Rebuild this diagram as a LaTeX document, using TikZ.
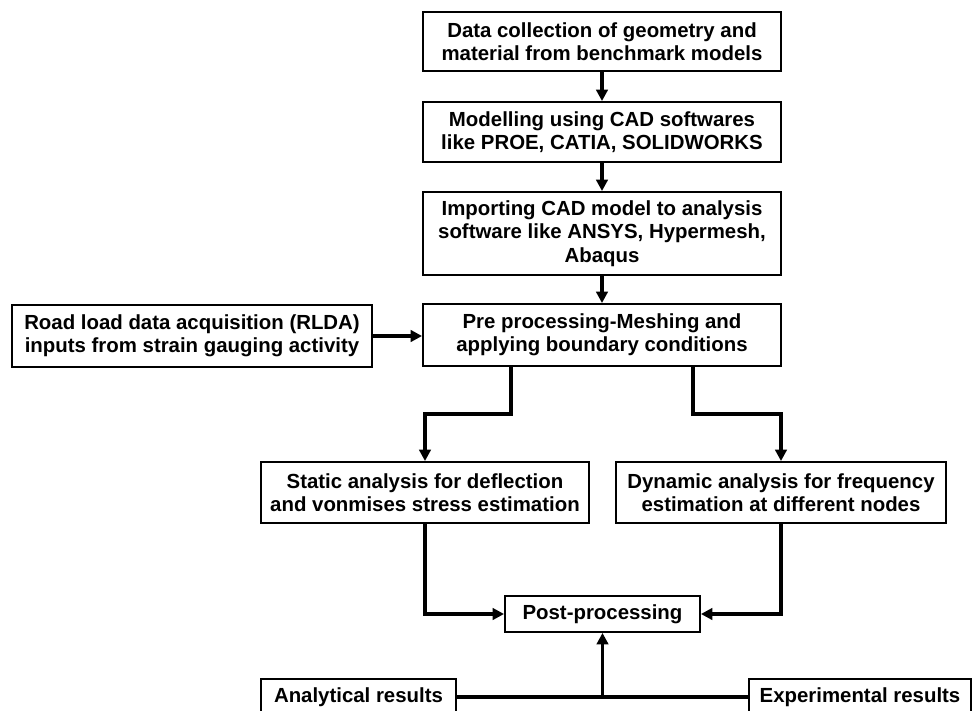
\documentclass[tikz,border=0pt]{standalone}
\usepackage{fontspec}
\setmainfont{Liberation Sans}
\usetikzlibrary{arrows.meta,calc}
\begin{document}
\begin{tikzpicture}[x=0.75pt,y=-0.75pt,
  box/.style={draw, line width=1.4pt, align=center, inner sep=0pt,
    font=\bfseries\fontsize{15.3}{17.5}\selectfont},
  arr/.style={line width=2.5pt, -{Triangle[length=8.5pt,width=8.5pt]}},
  link/.style={line width=2.5pt}]
\useasboundingbox (0,0) rectangle (976,711);
\clip (0,0) rectangle (976,711);
\fill[white] (0,0) rectangle (976,711);

\node[box, minimum width=268.5pt, minimum height=44.25pt] (b1) at (602,41.5)
  {Data collection of geometry and\\material from benchmark models};
\node[box, minimum width=268.5pt, minimum height=45pt] (b2) at (602,132)
  {Modelling using CAD softwares\\like PROE, CATIA, SOLIDWORKS};
\node[box, minimum width=268.5pt, minimum height=62.25pt] (b3) at (602,233.5)
  {Importing CAD model to analysis\\software like ANSYS, Hypermesh,\\Abaqus};
\node[box, minimum width=268.5pt, minimum height=46.5pt] (b4) at (602,335)
  {Pre processing-Meshing and\\applying boundary conditions};
\node[box, minimum width=270pt, minimum height=46.5pt] (road) at (192,336)
  {Road load data acquisition (RLDA)\\inputs from strain gauging activity};
\node[box, minimum width=246pt, minimum height=45.75pt] (stat) at (425,492.5)
  {Static analysis for deflection\\and vonmises stress estimation};
\node[box, minimum width=247.5pt, minimum height=45.75pt] (dyn) at (781,492.5)
  {Dynamic analysis for frequency\\estimation at different nodes};
\node[box, minimum width=146.25pt, minimum height=27pt] (post) at (602.5,614)
  {Post-processing};
\node[box, minimum width=146.25pt, minimum height=27pt] (ana) at (358.5,697)
  {Analytical results};
\node[box, minimum width=166.5pt, minimum height=27pt] (exp) at (860,697)
  {Experimental results};

\draw[arr] (b1) -- (b2);
\draw[arr] (b2) -- (b3);
\draw[arr] (b3) -- (b4);
\draw[arr] (road.east) -- (road.east -| b4.west);
\draw[arr] ([xshift=-68.25pt]b4.south) -- ++(0,47) -| (stat.north);
\draw[arr] ([xshift=68.25pt]b4.south) -- ++(0,47) -| (dyn.north);
\draw[arr] (stat.south) |- (post.west);
\draw[arr] (dyn.south) |- (post.east);
\draw[link] (ana.east) -- (exp.west);
\draw[arr] (post.south |- ana.east) -- (post.south);
\end{tikzpicture}
\end{document}
